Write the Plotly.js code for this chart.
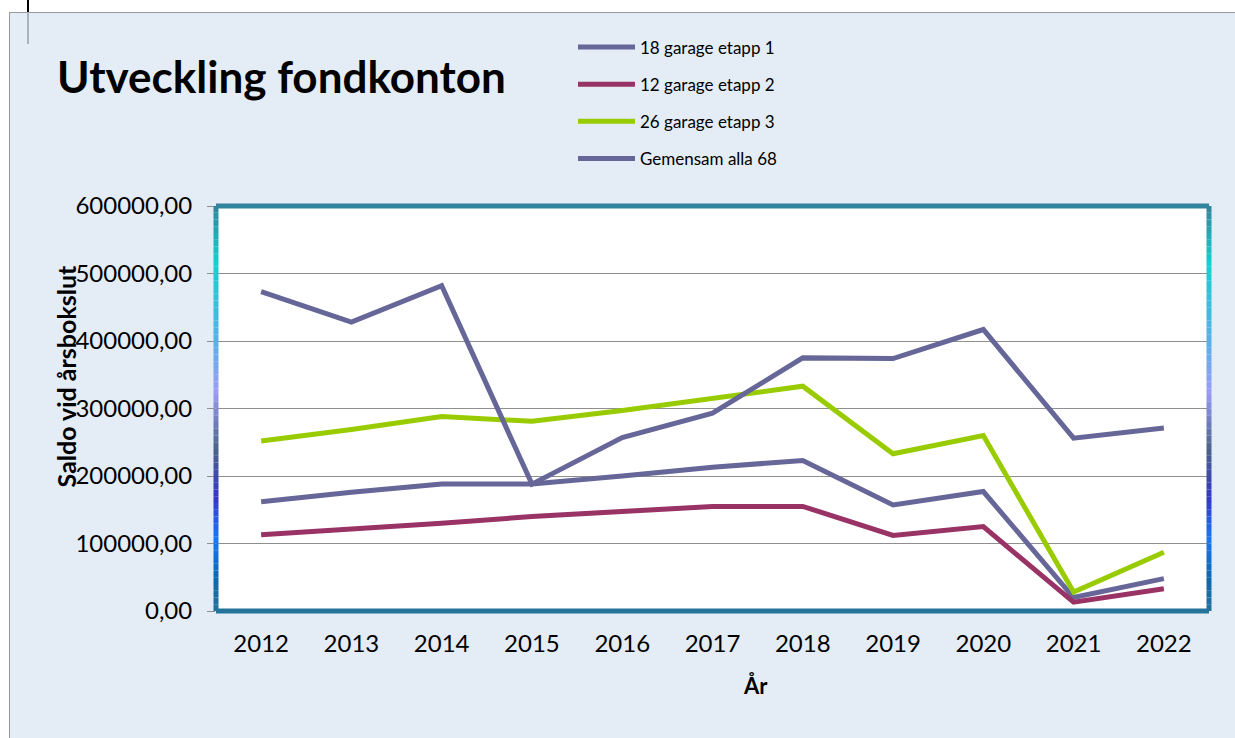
<!DOCTYPE html>
<html>
<head>
<meta charset="utf-8">
<script src="https://cdn.plot.ly/plotly-3.0.1.min.js"></script>
<style>
  html, body { margin: 0; padding: 0; background: #ffffff; }
  #bg { position: absolute; left: 9px; top: 12px; width: 1226px; height: 726px;
        background: #e4ecf5; border-left: 1px solid #9a9a9a; border-top: 1px solid #9a9a9a; box-sizing: border-box; }
  #mk1 { position: absolute; left: 27px; top: 0; width: 2px; height: 12px; background: #000; }
  #mk2 { position: absolute; left: 27px; top: 12px; width: 2px; height: 32px; background: #aab2c0; }
  #chart { position: absolute; left: 0; top: 0; width: 1235px; height: 738px; }
</style>
</head>
<body>
<div id="bg"></div>
<div id="mk1"></div>
<div id="mk2"></div>
<div id="chart"></div>
<script>
const years = ['2012','2013','2014','2015','2016','2017','2018','2019','2020','2021','2022'];
const seriesNames = ['18 garage etapp 1','12 garage etapp 2','26 garage etapp 3','Gemensam alla 68'];
const etapp1   = [162000,176000,188000,188000,200000,213000,223000,157000,177000,20000,48000];
const etapp2   = [113000,121000,130000,140000,148000,155000,155000,112000,125000,13000,33000];
const etapp3   = [252000,269000,288000,281000,297000,315000,333000,233000,260000,28000,87000];
const gemensam = [473000,428000,482000,188000,257000,293000,375000,374000,417000,256000,271000];
const yTicks = [0,100000,200000,300000,400000,500000,600000];

const colors = ['#666699','#993366','#99cc00','#666699'];
const values = [etapp1, etapp2, etapp3, gemensam];

const traces = values.map((v, i) => ({
  type: 'scatter', mode: 'lines', x: years, y: v, name: seriesNames[i],
  legendgroup: 'g' + i,
  line: { color: colors[i], width: 5 }
}));

// gradient border of the plot area
const stops = [[0,[49,132,155]],[0.14,[20,208,208]],[0.34,[90,176,232]],[0.46,[156,156,248]],
               [0.6,[74,100,136]],[0.72,[54,54,200]],[0.82,[24,120,248]],[0.92,[10,104,176]],[1,[36,116,156]]];
function colAt(t){
  for (let k = 0; k < stops.length - 1; k++){
    const a = stops[k], b = stops[k+1];
    if (t >= a[0] && t <= b[0]){
      const f = (t - a[0]) / (b[0] - a[0]);
      const c = a[1].map((x, j) => Math.round(x + (b[1][j] - x) * f));
      return 'rgb(' + c.join(',') + ')';
    }
  }
  return 'rgb(36,116,156)';
}
const shapes = [];
const N = 60;
for (let i = 0; i < N; i++){
  const t0 = i / N, t1 = (i + 1) / N, c = colAt((t0 + t1) / 2);
  [0, 1].forEach(xx => shapes.push({ type: 'line', xref: 'paper', yref: 'paper', layer: 'above',
    x0: xx, x1: xx, y0: 1 - t0, y1: 1 - t1, line: { color: c, width: 5 } }));
}
shapes.push({ type: 'line', xref: 'paper', yref: 'paper', layer: 'above', x0: 0, x1: 1, y0: 1, y1: 1, line: { color: '#31849b', width: 5 } });
shapes.push({ type: 'line', xref: 'paper', yref: 'paper', layer: 'above', x0: 0, x1: 1, y0: 0, y1: 0, line: { color: '#24749c', width: 5 } });

const layout = {
  width: 1235, height: 738,
  margin: { l: 216, r: 26, t: 206, b: 127 },
  paper_bgcolor: 'rgba(0,0,0,0)',
  plot_bgcolor: '#ffffff',
  separators: ', ',
  font: { family: 'Lato, sans-serif', color: '#000000' },
  title: { text: '<b>Utveckling fondkonton</b>', xref: 'container', yref: 'container',
           x: 57 / 1235, xanchor: 'left', y: 1 - 78 / 738, yanchor: 'middle',
           font: { family: 'Lato, sans-serif', size: 44, color: '#000000' } },
  xaxis: { type: 'category', range: [-0.5, 10.5], showgrid: false, zeroline: false, showline: false, ticks: '',
           tickfont: { size: 24, color: '#000000' }, ticklabelstandoff: 16, fixedrange: true },
  yaxis: { range: [0, 600000], tickvals: yTicks, tickformat: '.2f', showgrid: true,
           gridcolor: '#8f8f8f', gridwidth: 1, zeroline: false, showline: false,
           ticks: 'outside', ticklen: 8, tickwidth: 1, tickcolor: '#8f8f8f',
           tickfont: { size: 24, color: '#000000' }, ticklabelstandoff: 10 },
  showlegend: true,
  legend: { x: (573 - 216) / 993, xanchor: 'left', y: (611 - 31) / 404, yanchor: 'top',
            orientation: 'v', bgcolor: 'rgba(0,0,0,0)', borderwidth: 0, tracegroupgap: 12,
            itemwidth: 57, font: { family: 'Lato, sans-serif', size: 17, color: '#000000' } },
  annotations: [
    { text: '<b>År</b>', xref: 'paper', yref: 'paper', x: (755 - 216) / 993, y: (611 - 685) / 404,
      xanchor: 'center', yanchor: 'middle', showarrow: false, font: { size: 22, color: '#000000' } },
    { text: '<b>Saldo vid årsbokslut</b>', xref: 'paper', yref: 'paper', x: (66 - 216) / 993, y: (611 - 377) / 404,
      xanchor: 'center', yanchor: 'middle', textangle: -90, showarrow: false, font: { size: 25, color: '#000000' } }
  ],
  shapes: shapes
};

Plotly.newPlot('chart', traces, layout, { displayModeBar: false, staticPlot: true });
</script>
</body>
</html>
